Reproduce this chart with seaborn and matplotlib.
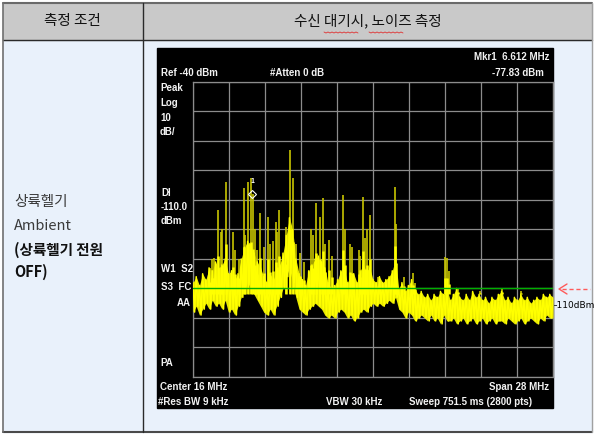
import numpy as np
import matplotlib
matplotlib.use("Agg")
import matplotlib.pyplot as plt
from matplotlib.patches import Rectangle
import seaborn as sns

# spectrum analyser settings
f_start, f_stop = 2.0, 30.0          # centre 16 MHz, span 28 MHz
ref_level, db_div = -40, 10
display_line = -110.0
marker_freq, marker_dbm = 6.612, -77.83

# noise floor envelope, one value every 0.25 MHz from 2 to 30 MHz
floor_freq = np.arange(f_start, f_stop + 0.001, 0.25)
floor_hi = [
    -108, -106, -109, -105, -107, -103, -104, -101,
    -103, -102, -100, -105, -104, -107, -105, -100,
    -96, -94, -95, -98, -101, -103, -106, -108,
    -105, -107, -104, -102, -98, -92, -86, -90,
    -100, -105, -107, -109, -104, -102, -100, -99,
    -101, -103, -108, -110, -109, -107, -104, -103,
    -108, -106, -105, -108, -104, -102, -104, -103,
    -107, -108, -106, -108, -107, -106, -104, -100,
    -110, -108, -111, -109, -107, -110, -112, -111,
    -113, -112, -114, -112, -113, -111, -112, -110,
    -114, -112, -110, -113, -114, -112, -114, -111,
    -113, -112, -114, -113, -115, -113, -114, -112,
    -111, -114, -113, -115, -113, -114, -112, -114,
    -113, -115, -114, -113, -114, -112, -113, -112,
    -113,
]
floor_lo = [
    -118, -116, -119, -117, -115, -117, -114, -116,
    -115, -117, -114, -118, -117, -119, -116, -113,
    -110, -108, -110, -112, -114, -116, -118, -119,
    -117, -119, -116, -113, -110, -106, -103, -108,
    -113, -117, -118, -119, -117, -116, -115, -116,
    -117, -119, -120, -119, -120, -118, -117, -118,
    -120, -119, -121, -120, -118, -117, -118, -116,
    -115, -116, -115, -116, -115, -114, -115, -113,
    -117, -118, -120, -118, -119, -121, -120, -119,
    -120, -121, -119, -121, -120, -122, -119, -121,
    -121, -120, -122, -121, -120, -122, -121, -120,
    -122, -121, -120, -122, -121, -120, -122, -121,
    -121, -122, -120, -121, -122, -121, -120, -122,
    -121, -120, -121, -122, -120, -121, -119, -120,
    -120,
]

# narrow spurs: frequency (MHz) and peak level (dBm)
peak_freq = [3.35, 3.50, 3.63, 3.94, 4.15, 4.26, 4.57, 5.10, 5.25, 5.55,
             5.97, 6.05, 6.28, 6.50, 6.67, 6.85, 7.00, 7.20, 7.50, 7.80,
             8.00, 8.20, 8.45, 8.55, 8.70, 9.25, 9.54, 9.78, 10.00, 10.35,
             10.60, 11.20, 11.35, 11.57, 11.88, 12.10, 12.30, 12.60, 12.80, 13.67,
             13.80, 14.20, 14.40, 14.90, 15.00, 15.20, 15.35, 15.50, 15.77, 16.40,
             17.70, 17.80, 18.40, 19.10, 19.30, 21.60, 21.75, 21.90, 22.60, 24.30,
             26.00, 27.50]
peak_dbm = [-103, -100, -99.7, -83.4, -91, -90, -74, -91, -97, -100,
            -76, -92, -74, -72.5, -77.8, -90, -97, -84.4, -96, -85.7,
            -95, -94, -87.5, -91, -83.4, -89, -63, -72.5, -95, -98,
            -101, -90, -92, -81, -85.7, -79.4, -95, -93.6, -99, -78.3,
            -90, -95, -96, -97, -99, -79, -93, -90, -85, -106,
            -75.6, -88, -106, -104.7, -108, -99.3, -99.5, -104, -110, -111,
            -110, -111]

# screen annotations
top_labels = [("Mkr1  6.612 MHz", 549, 57, "right"), ("-77.83 dBm", 544, 73, "right"),
              ("Ref -40 dBm", 161, 73, "left"), ("#Atten 0 dB", 270, 73, "left")]
side_labels = [("Peak", 160, 88), ("Log", 160, 103), ("10", 160, 118), ("dB/", 160, 132),
               ("Dl", 161, 193), ("-110.0", 161, 207), ("dBm", 161, 221),
               ("W1  S2", 161, 269), ("S3  FC", 161, 287), ("PA", 160, 363)]
bottom_labels = [("Center 16 MHz", 160, 387, "left"), ("Span 28 MHz", 549, 387, "right"),
                 ("#Res BW 9 kHz", 158, 402, "left"), ("VBW 30 kHz", 326, 402, "left"),
                 ("Sweep 751.5 ms (2800 pts)", 409, 402, "left")]

sns.set_style("white")
plt.rcParams["font.family"] = ["Noto Sans CJK KR", "DejaVu Sans"]
scr_font = ["Liberation Sans Narrow", "Liberation Sans", "DejaVu Sans"]

W, H = 597, 434
fig = plt.figure(figsize=(W / 100, H / 100), dpi=100)

# table background drawn in pixel coordinates
bg = fig.add_axes([0, 0, 1, 1])
bg.set_xlim(0, W)
bg.set_ylim(H, 0)
bg.axis("off")
bg.add_patch(Rectangle((3, 40), 589, 392, color="#e9f1fb", zorder=0))
bg.add_patch(Rectangle((3, 3), 589, 37, color="#c9c9c9", zorder=0))
bg.plot([3, 592], [3, 3], color="#6a6a6a", lw=1.5)
bg.plot([3, 592], [40, 40], color="#2a2a2a", lw=1.0)
bg.plot([3, 592], [432, 432], color="#4a4a4a", lw=1.5)
bg.plot([3, 3], [3, 432], color="#707070", lw=1.2)
bg.plot([592, 592], [3, 432], color="#a0a0a0", lw=1.0)
bg.plot([143, 143], [3, 432], color="#2a2a2a", lw=1.0)

bg.text(72, 21, "측정 조건", ha="center", va="center", fontsize=10.5, color="#111111")
bg.text(368, 21, "수신 대기시, 노이즈 측정", ha="center", va="center", fontsize=10.5, color="#111111")
for x0, x1 in [(324, 358), (369, 403)]:
    xs = np.arange(x0, x1 + 1, 2)
    bg.plot(xs, [32 + (i % 2) for i in range(len(xs))], color="#e03030", lw=0.6)

bg.text(14, 202, "상륙헬기", va="center", fontsize=10.5, color="#3a3a3a")
bg.text(14, 226, "Ambient", va="center", fontsize=10.5, color="#3a3a3a")
bg.text(14, 250, "(상륙헬기 전원", va="center", fontsize=10.5, fontweight="bold", color="#111111")
bg.text(14, 272, "OFF)", va="center", fontsize=10.5, fontweight="bold", color="#111111")

# analyser screen
bg.add_patch(Rectangle((157, 48), 396, 360, color="black", zorder=1))
screen_txt = dict(va="center", fontsize=7, fontweight="bold", color="#f2f2f2",
                  family=scr_font, zorder=5, transform=bg.transData)
for txt, x, y, ha in top_labels + bottom_labels:
    fig.text(x, y, txt, ha=ha, **screen_txt)
for txt, x, y in side_labels:
    fig.text(x, y, txt, ha="left", **screen_txt)
fig.text(191, 303, "AA", ha="right", **screen_txt)

# red arrow and -110dBm note outside the screen
bg.plot([562, 590], [289, 289], color="#ff5a5a", lw=1.0, ls=(0, (3, 2)))
bg.plot([567, 559, 567], [284, 289, 294], color="#ff5a5a", lw=1.0)
bg.text(553, 305, "\u2013110dBm", ha="left", va="center", fontsize=6.5,
        color="black", family=["DejaVu Sans"])

ax = fig.add_axes([193 / W, (H - 377) / H, 360 / W, 295 / H], zorder=2)
ax.set_facecolor("black")
ax.set_xlim(f_start, f_stop)
ax.set_ylim(ref_level - 10 * db_div, ref_level)
ax.set_xticks(np.linspace(f_start, f_stop, 11))
ax.set_yticks(np.arange(ref_level - 10 * db_div, ref_level + 1, db_div))
ax.tick_params(length=0, labelbottom=False, labelleft=False)
ax.grid(True, color="#8c8c8c", lw=0.9)
for s in ax.spines.values():
    s.set_color("#8c8c8c")
    s.set_linewidth(0.9)

# trace: noise band with zig-zag between envelopes, plus spurs
ax.fill_between(floor_freq, floor_lo, floor_hi, color="#e8e800", lw=0, zorder=3)
zig_x, zig_y = [], []
for f, lo, hi in zip(floor_freq, floor_lo, floor_hi):
    zig_x += [f, f + 0.125]
    zig_y += [hi, lo]
sns.lineplot(x=zig_x, y=zig_y, sort=False, estimator=None, ax=ax,
             color="#ffff00", lw=1.1, zorder=4)
base = -112
core_top = [base + 0.45 * (p - base) for p in peak_dbm]
ax.vlines(peak_freq, base, peak_dbm, color="#c8c400", lw=1.2, zorder=3)
ax.vlines(peak_freq, base, core_top, color="#ffff00", lw=1.8, zorder=4)
ax.axhline(display_line, color="#00b000", lw=1.0, zorder=5)
ax.plot([marker_freq], [marker_dbm], marker="D", ms=4, mfc="none", mec="white",
        mew=0.8, zorder=6)
ax.text(marker_freq, marker_dbm + 4.5, "1", ha="center", va="center", fontsize=5,
        color="white", fontweight="bold", zorder=6)
ax.set_xlabel("")
ax.set_ylabel("")

fig.savefig("out.png", dpi=100)
